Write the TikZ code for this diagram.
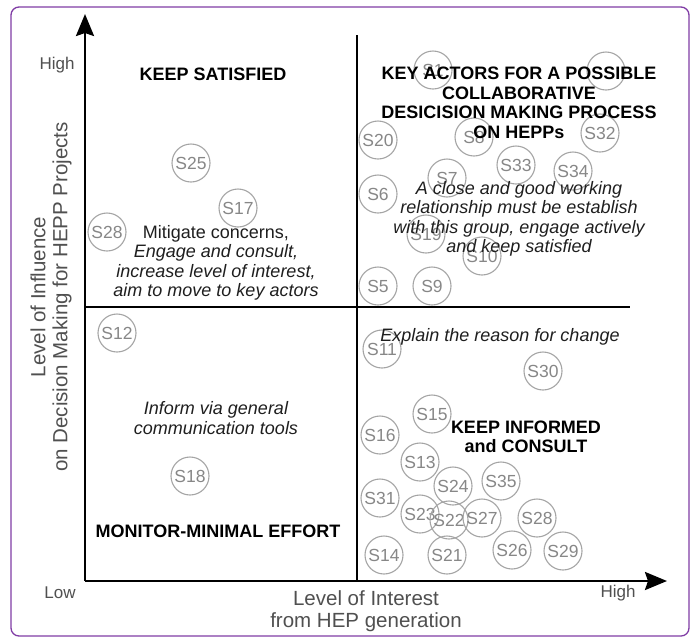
\documentclass[tikz,border=0pt]{standalone}
\usepackage{fontspec}
\setmainfont{Liberation Sans}
\usetikzlibrary{arrows.meta}
\definecolor{framec}{RGB}{128,60,165}
\definecolor{stkgray}{RGB}{165,165,165}
\definecolor{lblgray}{RGB}{135,135,135}
\definecolor{axgray}{RGB}{80,80,80}
\begin{document}
\begin{tikzpicture}[x=1pt,y=-1pt,
  stk/.style={circle, draw=stkgray, line width=1.1pt, minimum size=38pt, inner sep=0pt, text=lblgray, font=\fontsize{17.5}{17.5}\selectfont},
  head/.style={font=\bfseries\fontsize{18}{19.5}\selectfont, align=center, text=black, inner sep=0pt},
  note/.style={font=\itshape\fontsize{18}{19.5}\selectfont, align=center, text=black!88, inner sep=0pt},
  axlbl/.style={text=axgray, font=\fontsize{17}{17}\selectfont, inner sep=0pt},
  axtitle/.style={text=axgray, font=\fontsize{20.5}{22}\selectfont, align=center, inner sep=0pt},
  axis/.style={line width=2.5pt, -{Stealth[length=22pt,width=18pt,inset=3pt]}},
  divider/.style={line width=1.5pt}
]
\useasboundingbox (0,0) rectangle (693,638);
\fill[white] (0,0) rectangle (693,638);
\draw[framec, line width=1.3pt, rounded corners=8pt] (11,7) rectangle (689,636);

% axes and dividers
\coordinate (O) at (85,581);
\coordinate (ytip) at (85,14);
\coordinate (xtip) at (667,581);
\coordinate (vtop) at (357,35);
\coordinate (vbot) at (357,581);
\coordinate (hl) at (85,307);
\coordinate (hr) at (630,307);
\draw[divider] (vtop) -- (vbot);
\draw[divider] (hl) -- (hr);
\draw[axis] (O) -- (ytip);
\draw[axis] (O) -- (xtip);

% stakeholder circles
\node[stk] (s1) at (433,70) {S1};
\node[stk] (sx) at (606,71) {};
\node[stk] (s20) at (378,140) {S20};
\node[stk] (s8) at (474,137) {S8};
\node[stk] (s32) at (600,133) {S32};
\node[stk] (s33) at (516,165) {S33};
\node[stk] (s34) at (573,171) {S34};
\node[stk] (s7) at (447,178) {S7};
\node[stk] (s6) at (378,194) {S6};
\node[stk] (s19) at (426,234) {S19};
\node[stk] (s10) at (482,256) {S10};
\node[stk] (s5) at (378,286) {S5};
\node[stk] (s9) at (432,286) {S9};
\node[stk] (s11) at (382,349) {S11};
\node[stk] (s30) at (543,371) {S30};
\node[stk] (s15) at (432,414) {S15};
\node[stk] (s16) at (380,435) {S16};
\node[stk] (s13) at (420,462) {S13};
\node[stk] (s24) at (453,486) {S24};
\node[stk] (s35) at (501,481) {S35};
\node[stk] (s31) at (380,498) {S31};
\node[stk] (s23) at (420,514) {S23};
\node[stk] (s22) at (449,520) {S22};
\node[stk] (s27) at (482,518) {S27};
\node[stk] (s28b) at (537,518) {S28};
\node[stk] (s14) at (384,555) {S14};
\node[stk] (s21) at (447,555) {S21};
\node[stk] (s26) at (512,550) {S26};
\node[stk] (s29) at (563,551) {S29};
\node[stk] (s25) at (191,163) {S25};
\node[stk] (s17) at (238,208) {S17};
\node[stk] (s28) at (107,232) {S28};
\node[stk] (s12) at (117,333) {S12};
\node[stk] (s18) at (190,476) {S18};

% quadrant texts
\node[head] (keepsat) at (213,74) {KEEP SATISFIED};
\node[head] (keyact) at (519,103) {KEY ACTORS FOR A POSSIBLE\\COLLABORATIVE\\DESICISION MAKING PROCESS\\ON HEPPs};
\node[note] (close) at (519,219) {A close and good working\\relationship must be establish\\with this group, engage actively\\and keep satisfied};
\node[note] (mitig) at (216,263) {\upshape Mitigate concerns,\\Engage and consult,\\increase level of interest,\\aim to move to key actors};
\node[note] (inform) at (216,418) {Inform via general\\communication tools};
\node[head] (monitor) at (218,531) {MONITOR-MINIMAL EFFORT};
\node[note] (explain) at (500,337) {Explain the reason for change};
\node[head] (keepinf) at (526,437) {KEEP INFORMED\\and CONSULT};

% axis labels
\node[axlbl] (yhigh) at (57,65) {High};
\node[axlbl] (ylow) at (60,593) {Low};
\node[axlbl] (xhigh) at (618,593) {High};
\node[axtitle] (xtitle) at (366,611) {Level of Interest\\from HEP generation};
\node[axtitle, rotate=90] (ytitle) at (51,297) {Level of Influence\\on Decision Making for HEPP Projects};
\end{tikzpicture}
\end{document}
